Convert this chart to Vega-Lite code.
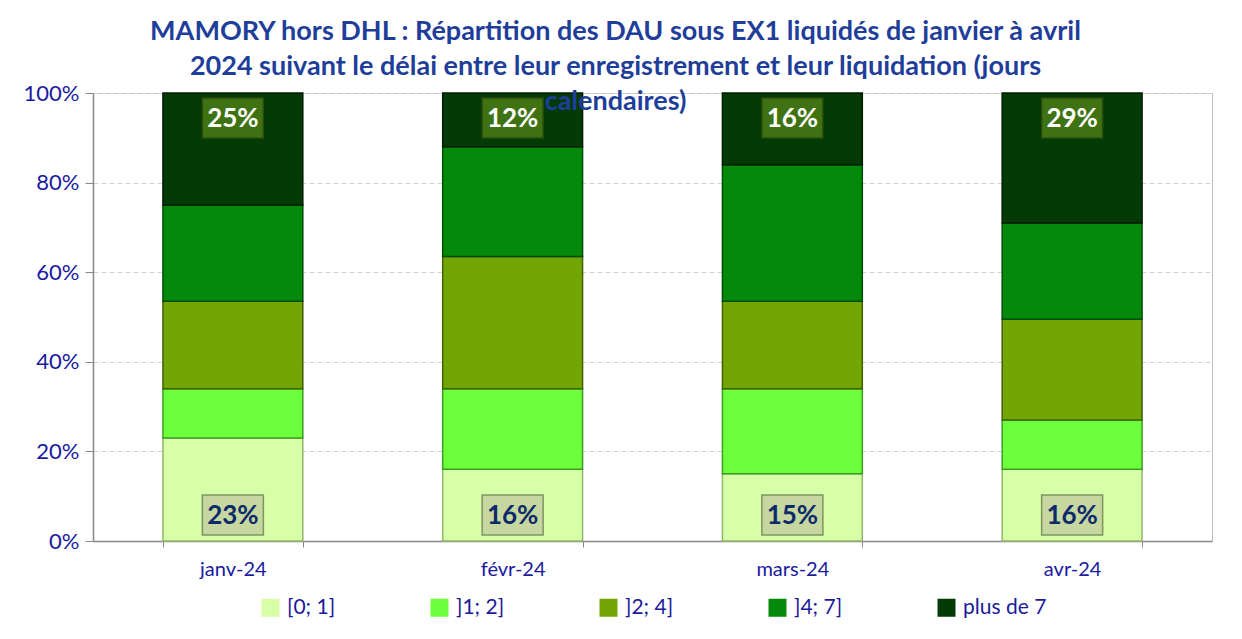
{
  "$schema": "https://vega.github.io/schema/vega-lite/v6.json",
  "width": 1119,
  "height": 448,
  "autosize": {"type": "none"},
  "padding": {"left": 93, "top": 93, "right": 30, "bottom": 98},
  "background": "white",
  "config": {"font": "Lato", "view": {"stroke": "#bfbfbf", "strokeWidth": 1}},
  "title": {
    "text": ["MAMORY hors DHL : Répartition des DAU sous EX1 liquidés de janvier à avril", "2024 suivant le délai entre leur enregistrement et leur liquidation (jours", "calendaires)"],
    "font": "Lato",
    "fontSize": 27,
    "fontWeight": "bold",
    "color": "#1F3E9A",
    "lineHeight": 35,
    "anchor": "middle",
    "dx": -37,
    "offset": -34
  },
  "data": {
    "values": [
      {"mois": "janv-24", "classe": "[0; 1]", "pct": 0.23},
      {"mois": "janv-24", "classe": "]1; 2]", "pct": 0.11},
      {"mois": "janv-24", "classe": "]2; 4]", "pct": 0.195},
      {"mois": "janv-24", "classe": "]4; 7]", "pct": 0.215},
      {"mois": "janv-24", "classe": "plus de 7", "pct": 0.25},
      {"mois": "févr-24", "classe": "[0; 1]", "pct": 0.16},
      {"mois": "févr-24", "classe": "]1; 2]", "pct": 0.18},
      {"mois": "févr-24", "classe": "]2; 4]", "pct": 0.295},
      {"mois": "févr-24", "classe": "]4; 7]", "pct": 0.245},
      {"mois": "févr-24", "classe": "plus de 7", "pct": 0.12},
      {"mois": "mars-24", "classe": "[0; 1]", "pct": 0.15},
      {"mois": "mars-24", "classe": "]1; 2]", "pct": 0.19},
      {"mois": "mars-24", "classe": "]2; 4]", "pct": 0.195},
      {"mois": "mars-24", "classe": "]4; 7]", "pct": 0.305},
      {"mois": "mars-24", "classe": "plus de 7", "pct": 0.16},
      {"mois": "avr-24", "classe": "[0; 1]", "pct": 0.16},
      {"mois": "avr-24", "classe": "]1; 2]", "pct": 0.11},
      {"mois": "avr-24", "classe": "]2; 4]", "pct": 0.225},
      {"mois": "avr-24", "classe": "]4; 7]", "pct": 0.215},
      {"mois": "avr-24", "classe": "plus de 7", "pct": 0.29}
    ]
  },
  "transform": [
    {"stack": "pct", "groupby": ["mois"], "sort": [{"field": "classe", "order": "ascending"}], "as": ["y0", "y1"]}
  ],
  "encoding": {
    "x": {
      "field": "mois", "type": "nominal",
      "sort": ["janv-24", "févr-24", "mars-24", "avr-24"],
      "scale": {"paddingInner": 0.5, "paddingOuter": 0.25},
      "axis": {
        "title": null, "labelAngle": 0, "labelFontSize": 20, "labelColor": "#1a1aa0",
        "labelPadding": 12, "tickBand": "extent", "tickSize": 6, "tickColor": "#898989",
        "domainColor": "#898989", "domainWidth": 1.5
      }
    }
  },
  "layer": [
    {
      "mark": {"type": "bar", "strokeWidth": 1.5},
      "encoding": {
        "y": {
          "field": "y0", "type": "quantitative",
          "scale": {"domain": [0, 1]},
          "axis": {
            "title": null, "format": ".0%", "values": [0, 0.2, 0.4, 0.6, 0.8, 1],
            "labelFontSize": 22, "labelColor": "#1a1aa0", "labelPadding": 6,
            "tickSize": 8, "tickColor": "#898989", "domainColor": "#898989", "domainWidth": 1.5,
            "grid": true, "gridColor": "#d4d4d4", "gridDash": [5, 3]
          }
        },
        "y2": {"field": "y1"},
        "color": {
          "field": "classe", "type": "nominal",
          "scale": {
            "domain": ["[0; 1]", "]1; 2]", "]2; 4]", "]4; 7]", "plus de 7"],
            "range": ["#D6FFA8", "#6CFF3C", "#72A606", "#05890B", "#033A05"]
          },
          "legend": {
            "title": null, "orient": "none", "legendX": 167, "legendY": 504,
            "direction": "horizontal", "columns": 5, "gridAlign": "all",
            "columnPadding": 58, "symbolType": "square", "symbolSize": 324,
            "symbolStrokeWidth": 0, "labelFontSize": 21, "labelColor": "#1a1a9a",
            "labelOffset": 6, "padding": 0
          }
        },
        "stroke": {
          "field": "classe", "type": "nominal",
          "scale": {
            "domain": ["[0; 1]", "]1; 2]", "]2; 4]", "]4; 7]", "plus de 7"],
            "range": ["#93b56c", "#3b9e22", "#445f05", "#034d08", "#011c02"]
          },
          "legend": null
        }
      }
    },
    {
      "transform": [{"filter": "datum.classe === '[0; 1]'"}],
      "mark": {"type": "point", "shape": "M-1.525,-1H1.525V1H-1.525Z", "size": 1600, "filled": true, "fill": "#c6d7a0", "stroke": "#7f9560", "strokeWidth": 1.5, "opacity": 1, "yOffset": -26},
      "encoding": {"y": {"field": "y0", "type": "quantitative"}}
    },
    {
      "transform": [{"filter": "datum.classe === '[0; 1]'"}],
      "mark": {"type": "text", "fontSize": 26, "fontWeight": "bold", "color": "#0d2a6a", "baseline": "middle", "align": "center", "yOffset": -25},
      "encoding": {"y": {"field": "y0", "type": "quantitative"}, "text": {"field": "pct", "type": "quantitative", "format": ".0%"}}
    },
    {
      "transform": [{"filter": "datum.classe === 'plus de 7'"}],
      "mark": {"type": "point", "shape": "M-1.525,-1H1.525V1H-1.525Z", "size": 1600, "filled": true, "fill": "#3f7212", "stroke": "#2a4d0c", "strokeWidth": 1.5, "opacity": 1, "yOffset": 25},
      "encoding": {"y": {"field": "y1", "type": "quantitative"}}
    },
    {
      "transform": [{"filter": "datum.classe === 'plus de 7'"}],
      "mark": {"type": "text", "fontSize": 26, "fontWeight": "bold", "color": "white", "baseline": "middle", "align": "center", "yOffset": 26},
      "encoding": {"y": {"field": "y1", "type": "quantitative"}, "text": {"field": "pct", "type": "quantitative", "format": ".0%"}}
    }
  ]
}
